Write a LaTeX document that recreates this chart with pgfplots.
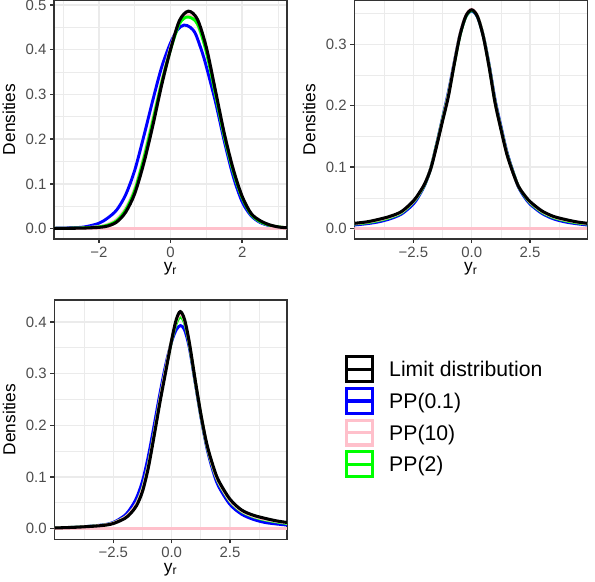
\documentclass[border=0pt]{standalone}
\usepackage{fontspec}
\setmainfont{Liberation Sans}
\usepackage{pgfplots}
\pgfplotsset{compat=1.18}
\definecolor{cA}{HTML}{333333}
\definecolor{cB}{HTML}{4D4D4D}
\definecolor{cgrid}{HTML}{EBEBEB}
\definecolor{ppink}{HTML}{FFC0CB}
\definecolor{pblue}{HTML}{0000FF}
\definecolor{pgreen}{HTML}{00FF00}
\pgfplotsset{
 ggaxis/.style={
  scale only axis, anchor=south west,
  axis line style={color=cA, line width=1.1pt},
  tick align=outside, tick pos=left,
  major tick length=3pt, minor tick length=0pt,
  every tick/.style={color=cA, line width=1.1pt},
  grid=both,
  major grid style={color=cgrid, line width=1.1pt},
  minor grid style={color=cgrid, line width=0.55pt},
  ticklabel style={font=\fontsize{11.2}{13}\selectfont, text=cB},
  xticklabel style={inner sep=0pt, yshift=-2.5pt},
  yticklabel style={inner sep=0pt, xshift=-2.5pt},
  ylabel={Densities},
  xlabel={y\textsubscript{r}},
  label style={font=\fontsize{13}{15}\selectfont, text=black},
  ylabel style={at={(axis description cs:-0.165,0.5)}, anchor=south, inner sep=0pt},
  xlabel style={at={(axis description cs:0.5,-0.098)}, anchor=north, inner sep=0pt},
 },
 lblue/.style={pblue, line width=2.2pt, smooth},
 lpink/.style={ppink, line width=2.2pt, smooth},
 lgreen/.style={pgreen, line width=2.2pt, smooth},
 lblack/.style={black, line width=2.3pt, smooth},
 lbase/.style={ppink, line width=2.6pt},
}
\begin{document}
\begin{tikzpicture}
\path[use as bounding box] (0,0) rectangle (446.25pt,435.75pt);
% ---------------- Panel 1 ----------------
\begin{axis}[ggaxis, at={(40.5pt,256.5pt)}, width=174.75pt, height=179.25pt,
  xmin=-3.25, xmax=3.25, ymin=-0.023, ymax=0.511,
  xtick={-2,0,2}, xticklabels={−2,0,2},
  minor xtick={-3,-1,1,3},
  ytick={0,0.1,0.2,0.3,0.4,0.5}, yticklabels={0.0,0.1,0.2,0.3,0.4,0.5},
  minor ytick={0.05,0.15,0.25,0.35,0.45}]
\addplot[lblue] coordinates {(-3.25,0.001) (-2.75,0.002) (-2.4,0.004) (-2.0,0.012) (-1.75,0.024) (-1.5,0.042) (-1.25,0.076) (-1.0,0.13) (-0.75,0.205) (-0.5,0.285) (-0.25,0.36) (0,0.415) (0.2,0.445) (0.38,0.455) (0.55,0.45) (0.7,0.435) (0.9,0.39) (1.0,0.362) (1.25,0.285) (1.5,0.196) (1.75,0.117) (2.0,0.060) (2.25,0.029) (2.5,0.014) (2.75,0.007) (3.0,0.003) (3.25,0.0015)};
\addplot[lpink] coordinates {(-3.25,0.0006) (-2.5,0.0015) (-2.0,0.005) (-1.75,0.010) (-1.5,0.021) (-1.25,0.046) (-1.0,0.09) (-0.75,0.16) (-0.5,0.245) (-0.25,0.33) (0,0.405) (0.25,0.462) (0.45,0.478) (0.7,0.465) (1.0,0.397) (1.25,0.304) (1.5,0.208) (1.75,0.129) (2.0,0.07) (2.25,0.033) (2.5,0.016) (2.75,0.008) (3.0,0.004) (3.25,0.002)};
\addplot[lgreen] coordinates {(-3.25,0.0006) (-2.5,0.0015) (-2.0,0.004) (-1.75,0.008) (-1.5,0.018) (-1.25,0.042) (-1.0,0.085) (-0.75,0.155) (-0.5,0.238) (-0.25,0.325) (0,0.40) (0.25,0.458) (0.48,0.473) (0.75,0.458) (1.0,0.395) (1.25,0.302) (1.5,0.207) (1.75,0.128) (2.0,0.069) (2.25,0.032) (2.5,0.016) (2.75,0.008) (3.0,0.004) (3.25,0.002)};
\addplot[lbase] coordinates {(-3.25,0) (3.25,0)};
\addplot[lblack] coordinates {(-3.25,0.0005) (-2.75,0.001) (-2.5,0.0012) (-2.0,0.003) (-1.75,0.006) (-1.5,0.015) (-1.25,0.037) (-1.0,0.078) (-0.75,0.145) (-0.5,0.228) (-0.25,0.32) (0,0.40) (0.25,0.465) (0.5,0.486) (0.75,0.468) (1.0,0.405) (1.25,0.31) (1.5,0.213) (1.75,0.133) (2.0,0.072) (2.25,0.034) (2.5,0.018) (2.75,0.009) (3.0,0.004) (3.25,0.002)};
\end{axis}
% ---------------- Panel 2 ----------------
\begin{axis}[ggaxis, at={(265.7pt,256.5pt)}, width=174.75pt, height=179.25pt,
  xmin=-5.03, xmax=4.95, ymin=-0.0168, ymax=0.372,
  xtick={-2.5,0,2.5}, xticklabels={−2.5,0.0,2.5},
  minor xtick={-3.75,-1.25,1.25,3.75},
  ytick={0,0.1,0.2,0.3}, yticklabels={0.0,0.1,0.2,0.3},
  minor ytick={0.05,0.15,0.25,0.35}]
\addplot[lblue] coordinates {(-5.03,0.006) (-4.5,0.008) (-4.0,0.011) (-3.5,0.016) (-3.0,0.024) (-2.5,0.040) (-2.25,0.054) (-2.0,0.072) (-1.75,0.099) (-1.5,0.138) (-1.25,0.18) (-1.0,0.222) (-0.75,0.27) (-0.5,0.316) (-0.25,0.345) (0,0.354) (0.25,0.344) (0.5,0.313) (0.75,0.266) (1.0,0.21) (1.25,0.167) (1.5,0.126) (1.75,0.095) (2.0,0.068) (2.25,0.052) (2.5,0.04) (3.0,0.025) (3.5,0.016) (4.0,0.011) (4.5,0.008) (4.95,0.006)};
\addplot[lgreen] coordinates {(-5.03,0.0075) (-4.5,0.0095) (-4.0,0.013) (-3.5,0.018) (-3.0,0.026) (-2.5,0.043) (-2.25,0.056) (-2.0,0.073) (-1.75,0.099) (-1.5,0.137) (-1.25,0.178) (-1.0,0.219) (-0.75,0.268) (-0.5,0.315) (-0.25,0.345) (0,0.355) (0.25,0.345) (0.5,0.313) (0.75,0.264) (1.0,0.207) (1.25,0.164) (1.5,0.124) (1.75,0.094) (2.0,0.069) (2.25,0.054) (2.5,0.042) (3.0,0.027) (3.5,0.018) (4.0,0.013) (4.5,0.0095) (4.95,0.0075)};
\addplot[lpink] coordinates {(-5.03,0.008) (-4.5,0.0105) (-4.0,0.014) (-3.5,0.019) (-3.0,0.027) (-2.5,0.044) (-2.25,0.057) (-2.0,0.074) (-1.75,0.099) (-1.5,0.136) (-1.25,0.177) (-1.0,0.218) (-0.75,0.269) (-0.5,0.317) (-0.25,0.347) (0,0.357) (0.25,0.346) (0.5,0.313) (0.75,0.263) (1.0,0.206) (1.25,0.163) (1.5,0.123) (1.75,0.093) (2.0,0.069) (2.25,0.055) (2.5,0.043) (3.0,0.028) (3.5,0.019) (4.0,0.014) (4.5,0.0105) (4.95,0.008)};
\addplot[lbase] coordinates {(-5.03,0) (4.95,0)};
\addplot[lblack] coordinates {(-5.03,0.0087) (-4.5,0.011) (-4.0,0.015) (-3.5,0.020) (-3.0,0.028) (-2.5,0.045) (-2.25,0.058) (-2.0,0.074) (-1.75,0.098) (-1.5,0.135) (-1.25,0.175) (-1.0,0.215) (-0.75,0.267) (-0.5,0.315) (-0.25,0.346) (0,0.356) (0.25,0.345) (0.5,0.312) (0.75,0.262) (1.0,0.205) (1.25,0.162) (1.5,0.122) (1.75,0.093) (2.0,0.069) (2.25,0.055) (2.5,0.044) (3.0,0.029) (3.5,0.020) (4.0,0.015) (4.5,0.011) (4.95,0.0087)};
\end{axis}
% ---------------- Panel 3 ----------------
\begin{axis}[ggaxis, at={(40.7pt,31.3pt)}, width=174.5pt, height=179.5pt,
  xmin=-5.03, xmax=4.94, ymin=-0.0205, ymax=0.4426,
  xtick={-2.5,0,2.5}, xticklabels={−2.5,0.0,2.5},
  minor xtick={-3.75,-1.25,1.25,3.75},
  ytick={0,0.1,0.2,0.3,0.4}, yticklabels={0.0,0.1,0.2,0.3,0.4},
  minor ytick={0.05,0.15,0.25,0.35},
  legend cell align=left,
  legend image code/.code={
    \draw[line width=2.4pt,#1] (0pt,-9.3pt) rectangle (19.4pt,9.3pt);
    \draw[line width=2.4pt,#1] (0pt,0pt) -- (19.4pt,0pt);
  },
  legend style={at={(axis description cs:1.249,0.77)}, anchor=north west,
    draw=none, fill=none, inner sep=0pt, row sep=2.75pt, column sep=11.25pt,
    font=\fontsize{15.9}{18}\selectfont,
    nodes={inner sep=0pt, text depth=0pt, text height=11.4pt}}]
\addlegendimage{black}
\addlegendentry{Limit distribution}
\addlegendimage{pblue}
\addlegendentry{PP(0.1)}
\addlegendimage{ppink}
\addlegendentry{PP(10)}
\addlegendimage{pgreen}
\addlegendentry{PP(2)}
\addplot[lblue, forget plot] coordinates {(-5.03,0.0013) (-4.0,0.003) (-3.0,0.007) (-2.5,0.012) (-2.0,0.026) (-1.75,0.040) (-1.5,0.060) (-1.25,0.092) (-1.0,0.14) (-0.75,0.2) (-0.5,0.262) (-0.25,0.318) (0,0.362) (0.2,0.385) (0.38,0.393) (0.55,0.385) (0.75,0.352) (1.0,0.285) (1.25,0.217) (1.5,0.158) (1.75,0.115) (2.0,0.083) (2.5,0.047) (3.0,0.028) (3.5,0.018) (4.0,0.012) (4.5,0.009) (4.94,0.007)};
\addplot[lgreen, forget plot] coordinates {(-5.03,0.0013) (-4.0,0.003) (-3.0,0.0065) (-2.5,0.011) (-2.0,0.022) (-1.75,0.033) (-1.5,0.049) (-1.25,0.078) (-1.0,0.124) (-0.75,0.185) (-0.5,0.25) (-0.25,0.31) (0,0.364) (0.2,0.397) (0.37,0.41) (0.55,0.398) (0.75,0.358) (1.0,0.288) (1.25,0.22) (1.5,0.162) (1.75,0.121) (2.0,0.09) (2.5,0.053) (3.0,0.033) (3.5,0.023) (4.0,0.017) (4.5,0.013) (4.94,0.010)};
\addplot[lpink, forget plot] coordinates {(-5.03,0.0013) (-4.0,0.003) (-3.0,0.0065) (-2.5,0.011) (-2.0,0.022) (-1.75,0.033) (-1.5,0.049) (-1.25,0.077) (-1.0,0.123) (-0.75,0.184) (-0.5,0.25) (-0.25,0.31) (0,0.366) (0.2,0.402) (0.37,0.415) (0.55,0.402) (0.75,0.36) (1.0,0.289) (1.25,0.221) (1.5,0.163) (1.75,0.122) (2.0,0.091) (2.5,0.054) (3.0,0.034) (3.5,0.024) (4.0,0.018) (4.5,0.014) (4.94,0.011)};
\addplot[lbase, forget plot] coordinates {(-5.03,0) (4.94,0)};
\addplot[lblack, forget plot] coordinates {(-5.03,0.0013) (-4.0,0.003) (-3.0,0.006) (-2.5,0.010) (-2.0,0.020) (-1.75,0.030) (-1.5,0.045) (-1.25,0.072) (-1.0,0.118) (-0.75,0.18) (-0.5,0.245) (-0.25,0.305) (0,0.365) (0.2,0.405) (0.37,0.42) (0.55,0.405) (0.75,0.362) (1.0,0.29) (1.25,0.222) (1.5,0.165) (1.75,0.125) (2.0,0.094) (2.5,0.057) (3.0,0.036) (3.5,0.026) (4.0,0.020) (4.5,0.015) (4.94,0.012)};
\end{axis}
\end{tikzpicture}
\end{document}
